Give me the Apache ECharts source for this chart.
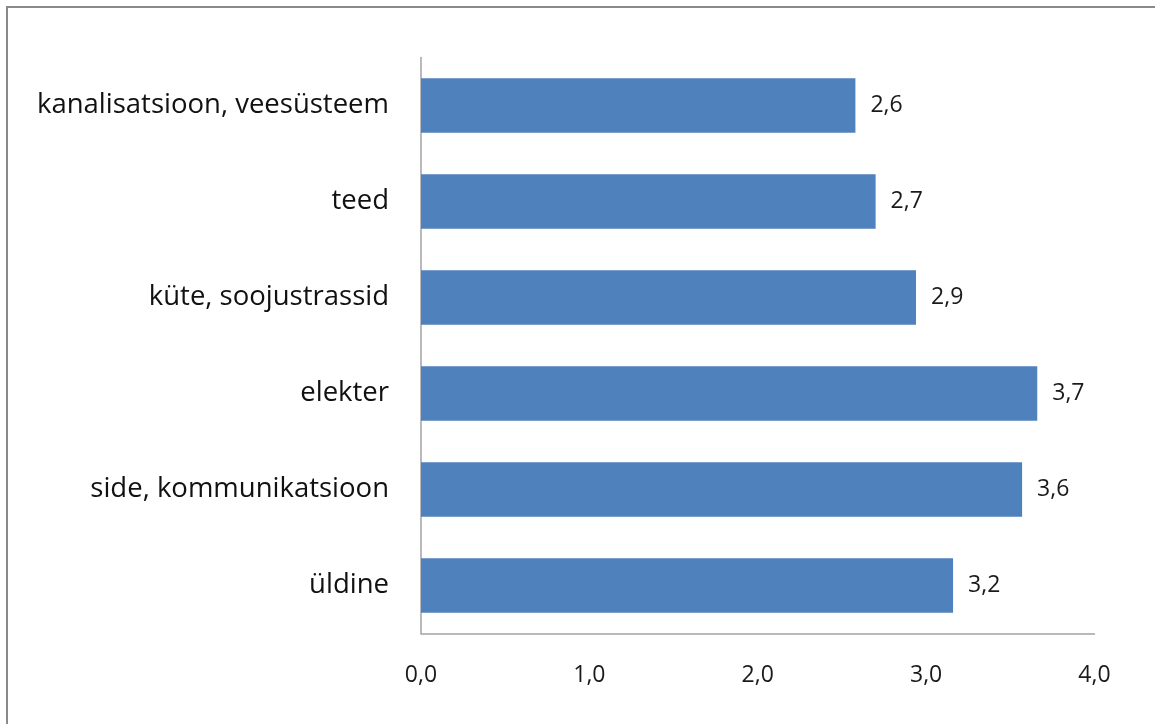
<!DOCTYPE html>
<html>
<head>
<meta charset="utf-8">
<script src="https://cdn.jsdelivr.net/npm/echarts@6/dist/echarts.min.js"></script>
<style>
html,body{margin:0;padding:0;background:#fff;}
#chart{width:1155px;height:724px;}
</style>
</head>
<body>
<div id="chart"></div>
<script>
// Categories listed top to bottom
var categories = ['kanalisatsioon, veesüsteem', 'teed', 'küte, soojustrassid', 'elekter', 'side, kommunikatsioon', 'üldine'];
var values = [2.58, 2.70, 2.94, 3.66, 3.57, 3.16];
var xTicks = [0, 1, 2, 3, 4];

function fmt(v){ return v.toFixed(1).replace('.', ','); }

var chart = echarts.init(document.getElementById('chart'), null, {renderer:'canvas'});
chart.setOption({
  animation: false,
  backgroundColor: '#ffffff',
  textStyle: { fontFamily: 'Open Sans' },
  graphic: [{
    type: 'rect',
    shape: { x: 7, y: 7, width: 1300, height: 900 },
    style: { fill: 'none', stroke: '#8a8a8a', lineWidth: 2 },
    silent: true
  }],
  grid: { left: 421, right: 60.5, top: 57.5, bottom: 90.5, containLabel: false },
  xAxis: {
    type: 'value',
    min: xTicks[0],
    max: xTicks[xTicks.length - 1],
    interval: 1,
    axisLine: { show: true, lineStyle: { color: '#a3a3a3', width: 1.5 } },
    axisTick: { show: false },
    splitLine: { show: false },
    axisLabel: {
      margin: 30,
      fontSize: 23,
      color: '#1a1a1a',
      fontFamily: 'Open Sans',
      formatter: function(v){ return fmt(v); }
    }
  },
  yAxis: {
    type: 'category',
    inverse: true,
    data: categories,
    axisLine: { show: true, lineStyle: { color: '#a3a3a3', width: 1.5 } },
    axisTick: { show: false },
    splitLine: { show: false },
    axisLabel: {
      margin: 32,
      fontSize: 27.5,
      color: '#111111',
      fontFamily: 'Open Sans'
    }
  },
  series: [{
    type: 'bar',
    data: values,
    barWidth: '57%',
    itemStyle: { color: '#4f81bd' },
    label: {
      show: true,
      position: 'right',
      distance: 15,
      fontSize: 23,
      color: '#1a1a1a',
      fontFamily: 'Open Sans',
      formatter: function(p){ return fmt(p.value); }
    }
  }]
});
</script>
</body>
</html>
